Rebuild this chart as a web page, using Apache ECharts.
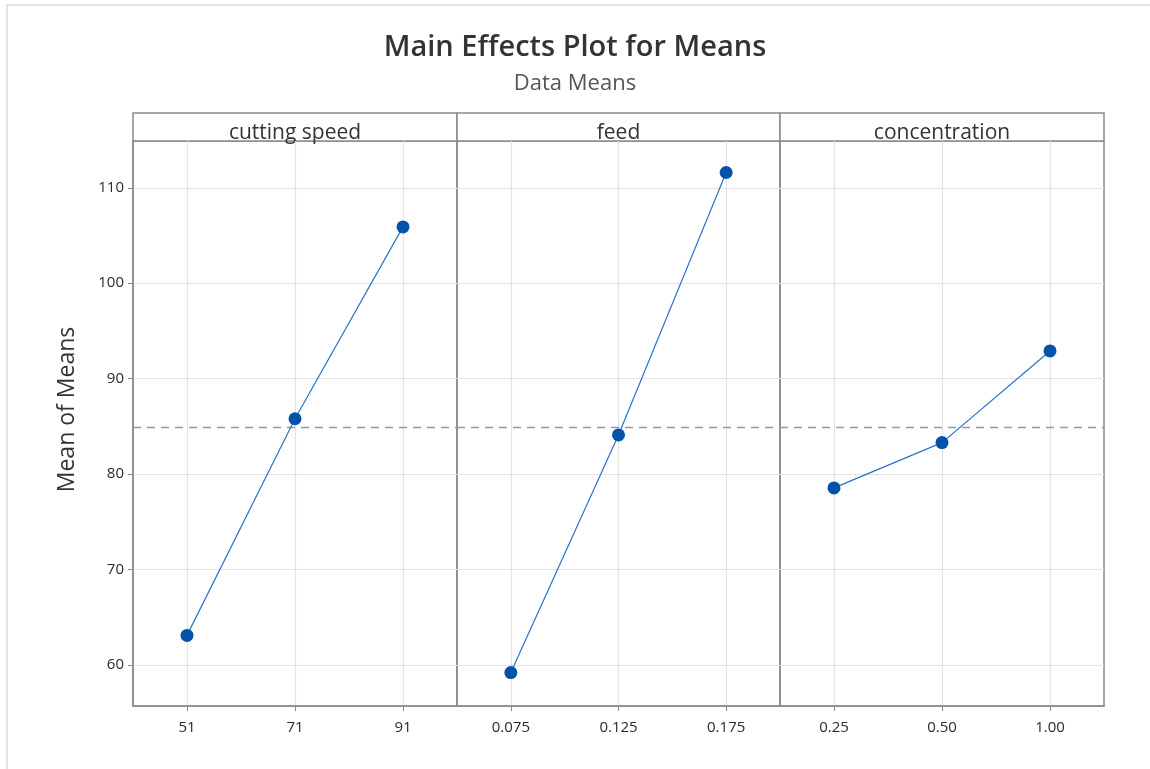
<!DOCTYPE html>
<html><head><meta charset="utf-8">
<script src="https://cdn.jsdelivr.net/npm/echarts@6/dist/echarts.min.js"></script>
<style>html,body{margin:0;padding:0;background:#fff}#c{width:1150px;height:769px}</style>
</head><body><div id="c"></div>
<script>
const factors = ['cutting speed', 'feed', 'concentration'];
const levelsCuttingSpeed = ['51', '71', '91'];
const levelsFeed = ['0.075', '0.125', '0.175'];
const levelsConcentration = ['0.25', '0.50', '1.00'];
const meansCuttingSpeed = [63.1, 85.8, 105.9];
const meansFeed = [59.2, 84.1, 111.6];
const meansConcentration = [78.55, 83.3, 92.9];
const grandMean = 84.9;
const yTicks = [60, 70, 80, 90, 100, 110];

const levels = [levelsCuttingSpeed, levelsFeed, levelsConcentration];
const means = [meansCuttingSpeed, meansFeed, meansConcentration];

const font = '"Open Sans", "Noto Sans", sans-serif';
const frame = '#8a8a8a';
const lefts = [133, 457, 780];
const widths = [324, 323, 324];
const gridTop = 141, gridBottom = 63;

const grids = [], xAxes = [], yAxes = [], series = [];
const graphics = [
  {type: 'polyline', shape: {points: [[7, 769], [7, 5], [1150, 5]]}, style: {stroke: '#e2e2e2', lineWidth: 2, fill: null}, silent: true}
];
for (let i = 0; i < 3; i++) {
  grids.push({left: lefts[i], width: widths[i], top: gridTop, bottom: gridBottom, show: true, borderColor: frame, borderWidth: 1.5, backgroundColor: 'transparent'});
  xAxes.push({
    type: 'category', gridIndex: i, data: levels[i], boundaryGap: true,
    axisLine: {show: true, lineStyle: {color: frame, width: 1.5}},
    axisTick: {show: true, alignWithLabel: true, length: 5, lineStyle: {color: frame}},
    axisLabel: {color: '#2b2b2b', fontSize: 15, fontFamily: font, margin: 14},
    splitLine: {show: true, alignWithLabel: true, lineStyle: {color: '#e3e3e3', width: 1.2}}
  });
  yAxes.push({
    type: 'value', gridIndex: i, min: 55.7, max: 114.9,
    axisLine: {show: i === 0, lineStyle: {color: frame, width: 1.5}},
    axisTick: {show: i === 0, length: 5, lineStyle: {color: frame}, customValues: yTicks},
    axisLabel: {show: i === 0, color: '#2b2b2b', fontSize: 15, fontFamily: font, margin: 9,
      customValues: yTicks},
    splitLine: {show: true, lineStyle: {color: '#e3e3e3', width: 1.2}, customValues: yTicks},
    name: i === 0 ? 'Mean of Means' : '', nameLocation: 'middle', nameGap: 54,
    nameTextStyle: {color: '#333', fontSize: 23, fontFamily: font, padding: [0, 0, 0, 28]}
  });
  series.push({
    type: 'line', xAxisIndex: i, yAxisIndex: i, data: means[i],
    symbol: 'circle', symbolSize: 13, showSymbol: true,
    lineStyle: {color: '#2a72c8', width: 1.2},
    itemStyle: {color: '#0553a8'},
    z: 5,
    markLine: {silent: true, symbol: 'none', label: {show: false},
      lineStyle: {color: '#999', type: [8, 6], width: 1.3},
      data: [{yAxis: grandMean}]}
  });
  graphics.push({type: 'rect', shape: {x: lefts[i], y: 113, width: widths[i], height: 28},
    style: {fill: '#fff', stroke: frame, lineWidth: 1.5}});
  graphics.push({type: 'text', x: lefts[i] + widths[i] / 2, y: 133,
    style: {text: factors[i], fill: '#333', font: '21px ' + font, textAlign: 'center', textVerticalAlign: 'middle'}});
}

const chart = echarts.init(document.getElementById('c'));
chart.setOption({
  backgroundColor: '#fff',
  animation: false,
  title: [
    {text: 'Main Effects Plot for Means', left: 'center', top: 28,
      textStyle: {fontSize: 29, fontWeight: 600, color: '#333', fontFamily: font}},
    {text: 'Data Means', left: 'center', top: 68,
      textStyle: {fontSize: 22, fontWeight: 'normal', color: '#555', fontFamily: font}}
  ],
  grid: grids, xAxis: xAxes, yAxis: yAxes, series: series,
  graphic: graphics
});
</script></body></html>
